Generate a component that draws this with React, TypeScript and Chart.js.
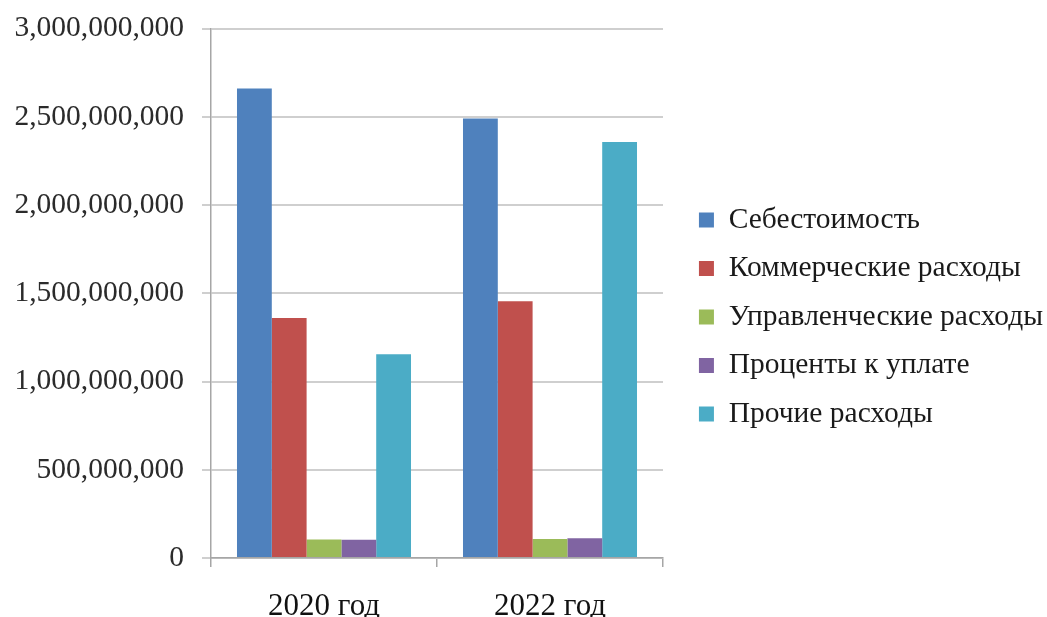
import React, { useEffect, useRef } from "react";
import { Chart, registerables } from "chart.js";

Chart.register(...registerables);

const categories = ["2020 год", "2022 год"];
const seriesNames = [
  "Себестоимость",
  "Коммерческие расходы",
  "Управленческие расходы",
  "Проценты к уплате",
  "Прочие расходы",
];
const sebestoimost = [2660000000, 2490000000];
const kommercheskie = [1360000000, 1455000000];
const upravlencheskie = [105000000, 108000000];
const procenty = [103000000, 112000000];
const prochie = [1155000000, 2357000000];
const seriesColors = ["#4F81BD", "#C0504D", "#9BBB59", "#8064A2", "#4BACC6"];
const yTickStep = 500000000;
const yMax = 3000000000;

const FONT = "'Liberation Serif', 'Times New Roman', serif";

export default function App() {
  const ref = useRef<HTMLCanvasElement | null>(null);

  useEffect(() => {
    if (!ref.current) return;
    const values = [sebestoimost, kommercheskie, upravlencheskie, procenty, prochie];
    const chart = new Chart(ref.current, {
      type: "bar",
      data: {
        labels: categories,
        datasets: seriesNames.map((name, i) => ({
          label: name,
          data: values[i],
          backgroundColor: seriesColors[i],
          borderWidth: 0,
          categoryPercentage: 0.77,
          barPercentage: 1.0,
          yAxisID: "y",
        })),
      },
      options: {
        animation: false,
        responsive: true,
        maintainAspectRatio: false,
        layout: { padding: { top: 17, right: -6, left: 0, bottom: 0 } },
        plugins: {
          tooltip: { enabled: false },
          legend: {
            position: "right",
            maxWidth: 500,
            labels: {
              boxWidth: 15,
              boxHeight: 15,
              padding: 19,
              color: "#1a1a1a",
              font: { family: FONT, size: 29.5 },
            },
          },
        },
        scales: {
          x: {
            grid: {
              display: true,
              drawOnChartArea: false,
              drawTicks: true,
              tickLength: 9,
              color: "#a6a6a6",
              lineWidth: 1.5,
            },
            border: { display: true, color: "#a6a6a6", width: 1.5 },
            ticks: {
              color: "#111111",
              padding: 21,
              font: { family: FONT, size: 31 },
              maxRotation: 0,
            },
            afterFit: (scale: any) => {
              scale.height = 59;
              scale.paddingLeft = 0;
              scale.paddingRight = 0;
            },
          },
          y: {
            min: 0,
            max: yMax,
            position: "left",
            grid: {
              color: "#cfcfcf",
              lineWidth: 2,
              drawTicks: true,
              tickLength: 9,
            },
            border: { display: true, color: "#a6a6a6", width: 1.5 },
            ticks: {
              stepSize: yTickStep,
              color: "#2b2b2b",
              padding: 18,
              font: { family: FONT, size: 29.5 },
              callback: (v: any) => Number(v).toLocaleString("en-US"),
            },
            afterFit: (scale: any) => {
              scale.width = 211;
              scale.paddingTop = 28.5;
              scale.paddingBottom = 0;
            },
          },
          y2: {
            type: "linear",
            position: "right",
            display: true,
            grid: { display: false, drawTicks: false },
            border: { display: false },
            ticks: { display: false },
            afterFit: (scale: any) => {
              const ch = scale.chart;
              const lw = ch.legend ? ch.legend.width : 0;
              scale.width = Math.max(0, ch.width + 6 - lw - 663);
            },
          },
        },
      },
    });
    return () => chart.destroy();
  }, []);

  return (
    <div style={{ position: "fixed", left: 0, top: 0, width: 1047, height: 617, background: "#ffffff" }}>
      <canvas ref={ref} />
    </div>
  );
}
